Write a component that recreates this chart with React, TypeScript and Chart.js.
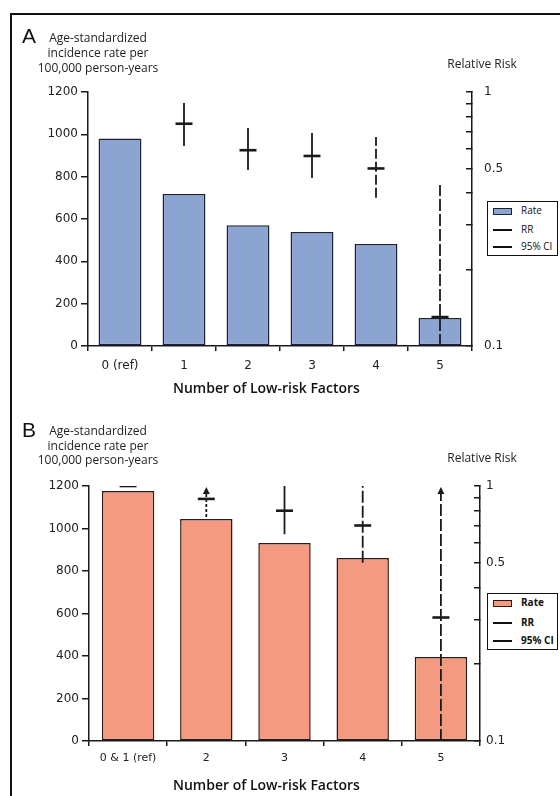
import React, { useEffect, useRef } from 'react';
import { Chart, registerables } from 'chart.js';

Chart.register(...registerables);

// ---------- Panel A data ----------
const categoriesA = ['0 (ref)', '1', '2', '3', '4', '5'];
const rateA = [980, 718, 571, 538, 482, 132];
const rrA = [null, 0.75, 0.59, 0.56, 0.5, 0.13];
const ciLowA = [null, 0.613, 0.493, 0.459, 0.383, 0.1];
const ciHighA = [null, 0.905, 0.722, 0.69, 0.665, 0.43];
const ciOpenA = [false, false, false, false, false, false];

// ---------- Panel B data ----------
const categoriesB = ['0 & 1 (ref)', '2', '3', '4', '5'];
const rateB = [1176, 1045, 932, 861, 395];
const rrB = [1.0, 0.89, 0.8, 0.7, 0.305];
const ciLowB = [null, 0.755, 0.647, 0.5, 0.1];
const ciHighB = [null, 1.0, 1.0, 1.0, 1.0];
const ciOpenB = [false, true, false, false, true];

// ---------- tick values ----------
const rateTicks = [0, 200, 400, 600, 800, 1000, 1200];
const rrTicks = [0.1, 0.2, 0.3, 0.4, 0.5, 0.6, 0.7, 0.8, 0.9, 1];
const rrTickLabels = [1, 0.5, 0.1];

// ---------- styles ----------
const dashesA: number[][] = [[], [], [], [], [10, 3], [12, 3]];
const dashesB: number[][] = [[], [3, 2], [], [12, 3], [12, 3]];
const INK = '#1a1a1a';

function makeCiPlugin(low: (number | null)[], high: (number | null)[], open: boolean[], dashes: number[][]) {
  return {
    id: 'ciLines',
    afterDatasetsDraw(chart: any) {
      const { ctx, scales } = chart;
      const xs = scales.x;
      const ys = scales.y1;
      ctx.save();
      ctx.strokeStyle = INK;
      ctx.fillStyle = INK;
      ctx.lineWidth = 1.8;
      low.forEach((lo, i) => {
        const hi = high[i];
        if (lo == null || hi == null) return;
        const x = xs.getPixelForValue(i);
        const yLo = ys.getPixelForValue(Math.max(lo, ys.min));
        const yHi = ys.getPixelForValue(Math.min(hi, ys.max));
        ctx.setLineDash(dashes[i] || []);
        ctx.beginPath();
        ctx.moveTo(x, yLo);
        ctx.lineTo(x, open[i] ? yHi + 6 : yHi);
        ctx.stroke();
        if (open[i]) {
          ctx.setLineDash([]);
          ctx.beginPath();
          ctx.moveTo(x, yHi + 1);
          ctx.lineTo(x - 3.5, yHi + 8);
          ctx.lineTo(x + 3.5, yHi + 8);
          ctx.closePath();
          ctx.fill();
        }
      });
      ctx.restore();
    },
  };
}

type PanelCfg = {
  categories: string[];
  rate: number[];
  rr: (number | null)[];
  ciLow: (number | null)[];
  ciHigh: (number | null)[];
  ciOpen: boolean[];
  dashes: number[][];
  fill: string;
  border: string;
  padding: { left: number; right: number; top: number; bottom: number };
  xLabelPad: number;
  xFontSize: number;
  y1Pad: number;
};

function buildConfig(p: PanelCfg): any {
  return {
    type: 'bar',
    data: {
      labels: p.categories,
      datasets: [
        {
          type: 'line',
          label: 'RR',
          data: p.rr,
          yAxisID: 'y1',
          showLine: false,
          pointStyle: 'line',
          pointRadius: 8.5,
          pointBorderWidth: 2.6,
          borderColor: INK,
          backgroundColor: INK,
          order: 0,
        },
        {
          type: 'bar',
          label: 'Rate',
          data: p.rate,
          yAxisID: 'y',
          backgroundColor: p.fill,
          borderColor: p.border,
          borderWidth: 1.5,
          borderSkipped: false,
          categoryPercentage: 1,
          barPercentage: 0.67,
          order: 1,
        },
      ],
    },
    options: {
      responsive: false,
      animation: false,
      devicePixelRatio: 1,
      layout: { padding: p.padding },
      plugins: { legend: { display: false }, tooltip: { enabled: false } },
      scales: {
        x: {
          type: 'category',
          offset: true,
          grid: {
            display: true,
            offset: true,
            drawOnChartArea: false,
            drawTicks: true,
            tickLength: 5,
            color: INK,
            lineWidth: 1.5,
          },
          border: { display: true, color: INK, width: 1.5 },
          ticks: {
            color: '#222',
            padding: p.xLabelPad,
            maxRotation: 0,
            autoSkip: false,
            font: { family: 'DejaVu Sans', size: p.xFontSize },
          },
          afterFit: (s: any) => {
            s.height = 30;
          },
        },
        y: {
          type: 'linear',
          position: 'left',
          min: 0,
          max: 1200,
          afterBuildTicks: (s: any) => {
            s.ticks = rateTicks.map((v) => ({ value: v }));
          },
          grid: {
            drawOnChartArea: false,
            drawTicks: true,
            tickLength: 7,
            color: INK,
            lineWidth: 1.5,
          },
          border: { display: true, color: INK, width: 1.5 },
          ticks: {
            color: '#222',
            padding: 3,
            font: { family: 'DejaVu Sans', size: 12 },
            callback: (v: any) => String(v),
          },
          afterFit: (s: any) => {
            s.width = 58;
          },
        },
        y1: {
          type: 'logarithmic',
          position: 'right',
          min: 0.1,
          max: 1,
          afterBuildTicks: (s: any) => {
            s.ticks = rrTicks.map((v) => ({ value: v }));
          },
          grid: {
            drawOnChartArea: false,
            drawTicks: true,
            tickLength: -6,
            color: INK,
            lineWidth: 1.5,
          },
          border: { display: true, color: INK, width: 1.5 },
          ticks: {
            color: '#222',
            padding: p.y1Pad,
            font: { family: 'DejaVu Sans', size: 12 },
            callback: (v: any) => (rrTickLabels.some((t) => Math.abs(t - v) < 1e-9) ? String(v) : ''),
          },
          afterFit: (s: any) => {
            s.width = 30;
          },
        },
      },
    },
    plugins: [makeCiPlugin(p.ciLow, p.ciHigh, p.ciOpen, p.dashes)],
  };
}

function Panel({ cfg, top, height }: { cfg: PanelCfg; top: number; height: number }) {
  const ref = useRef<HTMLCanvasElement>(null);
  useEffect(() => {
    if (!ref.current) return;
    const chart = new Chart(ref.current, buildConfig(cfg));
    return () => chart.destroy();
  }, []);
  return (
    <canvas
      ref={ref}
      width={560}
      height={height}
      style={{ position: 'absolute', left: 0, top, width: 560, height, display: 'block' }}
    />
  );
}

const abs = (s: React.CSSProperties): React.CSSProperties => ({ position: 'absolute', margin: 0, whiteSpace: 'nowrap', ...s });

function Legend({ top, height, fill, border, bold }: { top: number; height: number; fill: string; border: string; bold: boolean }) {
  const txt = (t: string, y: number) => (
    <div
      style={abs({
        left: 521,
        top: y,
        fontFamily: 'Open Sans',
        fontSize: 10,
        lineHeight: '12px',
        fontWeight: bold ? 700 : 400,
        color: '#111',
      })}
    >
      {t}
    </div>
  );
  const step = (height - 20) / 2;
  return (
    <>
      <div
        style={abs({
          left: 487,
          top,
          width: 71,
          height,
          boxSizing: 'border-box',
          border: '1.5px solid #111',
          background: '#fff',
        })}
      />
      <div
        style={abs({
          left: 493,
          top: top + 7,
          width: 19,
          height: 7,
          boxSizing: 'border-box',
          border: `1.5px solid ${border}`,
          background: fill,
        })}
      />
      {txt('Rate', top + 3)}
      <div style={abs({ left: 493, top: top + 10 + step, width: 19, height: 2, background: '#111' })} />
      {txt('RR', top + 4 + step)}
      <div style={abs({ left: 493, top: top + 10 + 2 * step, width: 19, height: 2, background: '#111' })} />
      {txt('95% CI', top + 4 + 2 * step)}
    </>
  );
}

function PanelTexts({ letter, letterTop, titleTop, lineH, rrTop, xTitleTop }: any) {
  return (
    <>
      <div style={abs({ left: 22, top: letterTop, fontFamily: 'Liberation Sans', fontSize: 21, lineHeight: '20px', color: '#111' })}>
        {letter}
      </div>
      <div
        style={abs({
          left: 18,
          width: 160,
          top: titleTop,
          textAlign: 'center',
          fontFamily: 'Open Sans',
          fontSize: 12,
          lineHeight: `${lineH}px`,
          color: '#222',
        })}
      >
        Age-standardized
        <br />
        incidence rate per
        <br />
        100,000 person-years
      </div>
      <div
        style={abs({
          left: 432,
          width: 100,
          top: rrTop,
          textAlign: 'center',
          fontFamily: 'Open Sans',
          fontSize: 12,
          lineHeight: '15px',
          color: '#222',
        })}
      >
        Relative Risk
      </div>
      <div
        style={abs({
          left: 173,
          top: xTitleTop,
          fontFamily: 'Open Sans',
          fontSize: 14,
          fontWeight: 600,
          lineHeight: '16px',
          color: '#111',
        })}
      >
        Number of Low-risk Factors
      </div>
    </>
  );
}

const BLUE = '#8CA4D2';
const BLUE_BORDER = '#1c2233';
const SALMON = '#F49A81';
const SALMON_BORDER = '#2a1a14';

const cfgA: PanelCfg = {
  categories: categoriesA,
  rate: rateA,
  rr: rrA,
  ciLow: ciLowA,
  ciHigh: ciHighA,
  ciOpen: ciOpenA,
  dashes: dashesA,
  fill: BLUE,
  border: BLUE_BORDER,
  padding: { left: 30, top: 92, right: 58, bottom: 24 },
  xLabelPad: 8,
  xFontSize: 12,
  y1Pad: 18,
};

const cfgB: PanelCfg = {
  categories: categoriesB,
  rate: rateB,
  rr: rrB,
  ciLow: ciLowB,
  ciHigh: ciHighB,
  ciOpen: ciOpenB,
  dashes: dashesB,
  fill: SALMON,
  border: SALMON_BORDER,
  padding: { left: 31, top: 86, right: 50, bottom: 25 },
  xLabelPad: 6,
  xFontSize: 11,
  y1Pad: 12,
};

export default function App() {
  return (
    <div
      style={{
        position: 'absolute',
        left: 0,
        top: 0,
        width: 560,
        height: 796,
        overflow: 'hidden',
        background: '#fff',
      }}
    >
      <Panel cfg={cfgA} top={0} height={400} />
      <Panel cfg={cfgB} top={400} height={396} />
      <PanelTexts letter="A" letterTop={26} titleTop={29.5} lineH={15} rrTop={56} xTitleTop={380} />
      <PanelTexts letter="B" letterTop={420} titleTop={424} lineH={14.5} rrTop={450} xTitleTop={777} />
      <Legend top={201} height={55} fill={BLUE} border={BLUE_BORDER} bold={false} />
      <Legend top={593} height={57} fill={SALMON} border={SALMON_BORDER} bold={true} />
      <div
        style={abs({
          left: 10,
          top: 12.5,
          width: 620,
          height: 820,
          boxSizing: 'border-box',
          border: '2.5px solid #111',
          pointerEvents: 'none',
        })}
      />
    </div>
  );
}
